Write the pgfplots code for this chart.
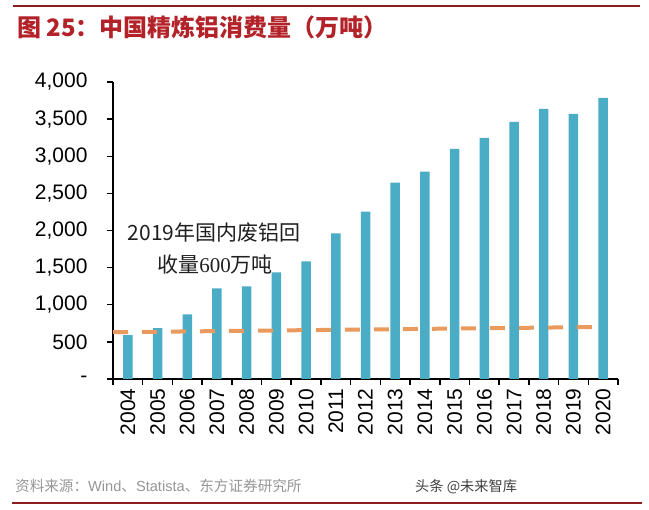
\documentclass[border=0pt]{standalone}
\usepackage{pgfplots}
\pgfplotsset{compat=1.18}
\usepackage{fontspec}
\setmainfont{Liberation Sans}
\newfontfamily\cjk{Noto Sans CJK SC}
\newfontfamily\tnr{Liberation Serif}

\definecolor{barblue}{RGB}{75,172,198}
\definecolor{trend}{RGB}{233,154,92}
\definecolor{titlered}{RGB}{178,34,40}
\definecolor{rulered}{RGB}{140,30,30}
\definecolor{srcgray}{RGB}{150,150,150}

\begin{document}
\begin{tikzpicture}
\useasboundingbox (0,0) rectangle (649bp,510bp);
% frame lines and texts
\draw[rulered, line width=2bp] (13bp,504bp) -- (640bp,504bp);
\draw[rulered, line width=1.2bp] (12bp,7bp) -- (642bp,7bp);
\node[anchor=west, inner sep=0pt, text=titlered, font=\cjk\bfseries\fontsize{24bp}{28bp}\selectfont]
  at (17bp,483bp) {图 25：中国精炼铝消费量（万吨）};
\node[anchor=west, inner sep=0pt, text=srcgray, font=\cjk\fontsize{14.6bp}{18bp}\selectfont]
  at (15bp,24bp) {资料来源：{\rmfamily Wind}、{\rmfamily Statista}、东方证券研究所};
\node[anchor=west, inner sep=0pt, text=black!75, font=\cjk\fontsize{14.2bp}{18bp}\selectfont]
  at (415bp,23bp) {头条 @未来智库};

\begin{axis}[
    at={(113bp,131bp)}, anchor=south west,
    scale only axis,
    width=505bp, height=297bp,
    xmin=-0.5, xmax=16.5,
    ymin=0, ymax=4000,
    axis x line=bottom, axis y line=left,
    axis line style={-, line width=1.5bp, black},
    tick align=outside,
    major tick length=6bp,
    tick style={line width=1.5bp, black},
    xtick={-0.5,0.5,...,16.5},
    xticklabels={},
    extra x ticks={0,...,16},
    extra x tick labels={2004,2005,2006,2007,2008,2009,2010,2011,2012,2013,2014,2015,2016,2017,2018,2019,2020},
    extra x tick style={major tick length=0pt, tick style={draw=none}},
    xticklabel style={rotate=90, anchor=east, font=\fontsize{21bp}{24bp}\selectfont, xshift=-6bp},
    ytick={0,500,...,4000},
    yticklabels={{-},{500},{1,000},{1,500},{2,000},{2,500},{3,000},{3,500},{4,000}},
    yticklabel style={font=\fontsize{21bp}{24bp}\selectfont, xshift=-16bp},
    clip=false,
]
\addplot[ybar, bar width=9.5bp, fill=barblue, draw=none] coordinates {
(0,590) (1,685) (2,872) (3,1221) (4,1248) (5,1436) (6,1584) (7,1960) (8,2255)
(9,2644) (10,2792) (11,3100) (12,3248) (13,3463) (14,3638) (15,3570) (16,3785)
};
\addplot[trend, line width=4bp, dash pattern=on 15bp off 14bp, no marks] coordinates {
(-0.5,630) (15.8,700)
};
\end{axis}

\node[align=center, inner sep=0pt, text=black!88, font=\cjk\fontsize{21bp}{25bp}\selectfont]
  at (214bp,277bp) {2019年国内废铝回};
\node[align=center, inner sep=0pt, text=black!88, font=\cjk\fontsize{21bp}{25bp}\selectfont]
  at (215bp,245bp) {收量{\tnr 600}万吨};
\end{tikzpicture}
\end{document}
